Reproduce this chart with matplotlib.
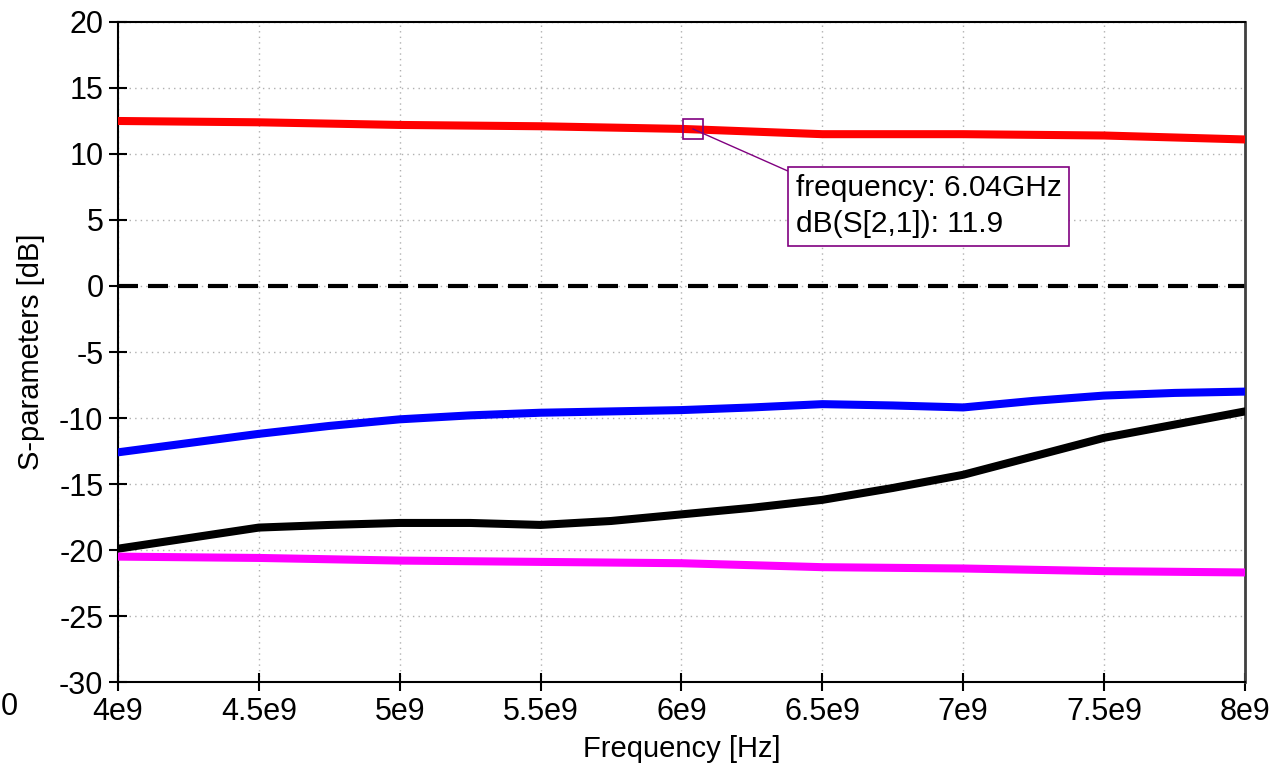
import numpy as np
import matplotlib
matplotlib.use("Agg")
import matplotlib.pyplot as plt

plt.rcParams['font.family'] = ['Liberation Sans', 'DejaVu Sans']
plt.rcParams['axes.unicode_minus'] = False

# frequency points (Hz)
freq = np.array([4.0, 4.25, 4.5, 4.75, 5.0, 5.25, 5.5, 5.75, 6.0, 6.25,
                 6.5, 6.75, 7.0, 7.25, 7.5, 7.75, 8.0]) * 1e9

# dB(S[2,1]) - red
s21 = [12.5, 12.45, 12.4, 12.3, 12.2, 12.15, 12.1, 12.0, 11.9, 11.7,
       11.5, 11.5, 11.5, 11.45, 11.4, 11.25, 11.1]
# blue
s11 = [-12.6, -11.9, -11.2, -10.6, -10.1, -9.8, -9.6, -9.5, -9.4, -9.2,
       -8.95, -9.05, -9.2, -8.7, -8.3, -8.1, -8.0]
# black
s22 = [-19.9, -19.1, -18.3, -18.1, -17.95, -17.95, -18.1, -17.8, -17.3, -16.8,
       -16.2, -15.3, -14.3, -12.9, -11.5, -10.5, -9.5]
# magenta
s12 = [-20.5, -20.55, -20.6, -20.7, -20.8, -20.85, -20.9, -20.95, -21.0, -21.15,
       -21.3, -21.35, -21.4, -21.5, -21.6, -21.65, -21.7]

marker_freq = 6.04e9
marker_val = 11.9

xticks = np.arange(4.0, 8.01, 0.5) * 1e9
xticklabels = ['4e9', '4.5e9', '5e9', '5.5e9', '6e9', '6.5e9', '7e9', '7.5e9', '8e9']
yticks = np.arange(-30, 21, 5)

fig = plt.figure(figsize=(12.81, 7.71), dpi=100)
ax = fig.add_axes([0.0921, 0.1154, 0.8798, 0.8561])

lw = 5.8
ax.plot(freq, s21, color='#ff0000', lw=lw, solid_capstyle='round', zorder=3)
ax.plot(freq, s11, color='#0000ff', lw=lw, solid_capstyle='round', zorder=3)
ax.plot(freq, s22, color='#000000', lw=lw, solid_capstyle='round', zorder=3)
ax.plot(freq, s12, color='#ff00ff', lw=lw, solid_capstyle='round', zorder=3)
ax.axhline(0, color='black', lw=3, dashes=(4.8, 2.4), zorder=2)

# marker
purple = '#800080'
ax.plot([marker_freq], [marker_val], marker='s', ms=15, mfc='none',
        mec=purple, mew=1.2, zorder=5)
ax.annotate('frequency: 6.04GHz\ndB(S[2,1]): 11.9',
            xy=(marker_freq, marker_val), xytext=(6.405e9, 8.45),
            textcoords='data', ha='left', va='top', fontsize=21.5,
            linespacing=1.35,
            bbox=dict(boxstyle='square,pad=0.25', fc='white', ec=purple, lw=1.2),
            arrowprops=dict(arrowstyle='-', color=purple, lw=1, relpos=(0, 1),
                            shrinkA=0, shrinkB=0),
            zorder=6)

ax.set_xlim(4e9, 8e9)
ax.set_ylim(-30, 20)
ax.set_xticks(xticks)
ax.set_xticklabels(xticklabels)
ax.set_yticks(yticks)
ax.tick_params(direction='inout', length=13, width=1.5, labelsize=22, pad=4,
               top=False, right=False)
ax.grid(True, color='#b0b0b0', linestyle=(0, (1, 3)), lw=1)
for side in ['left', 'bottom', 'top']:
    ax.spines[side].set_linewidth(1.5)
    ax.spines[side].set_color('black')
ax.spines['right'].set_linewidth(2)
ax.spines['right'].set_color('#404040')

ax.set_xlabel('Frequency [Hz]', fontsize=21, labelpad=6)
ax.set_ylabel('S-parameters [dB]', fontsize=21, labelpad=10)

# partly hidden label at the lower left edge
fig.text(1 / 1281, 1 - 707 / 771, '0', fontsize=22, ha='left', va='center')

fig.savefig('out.png', dpi=100)
